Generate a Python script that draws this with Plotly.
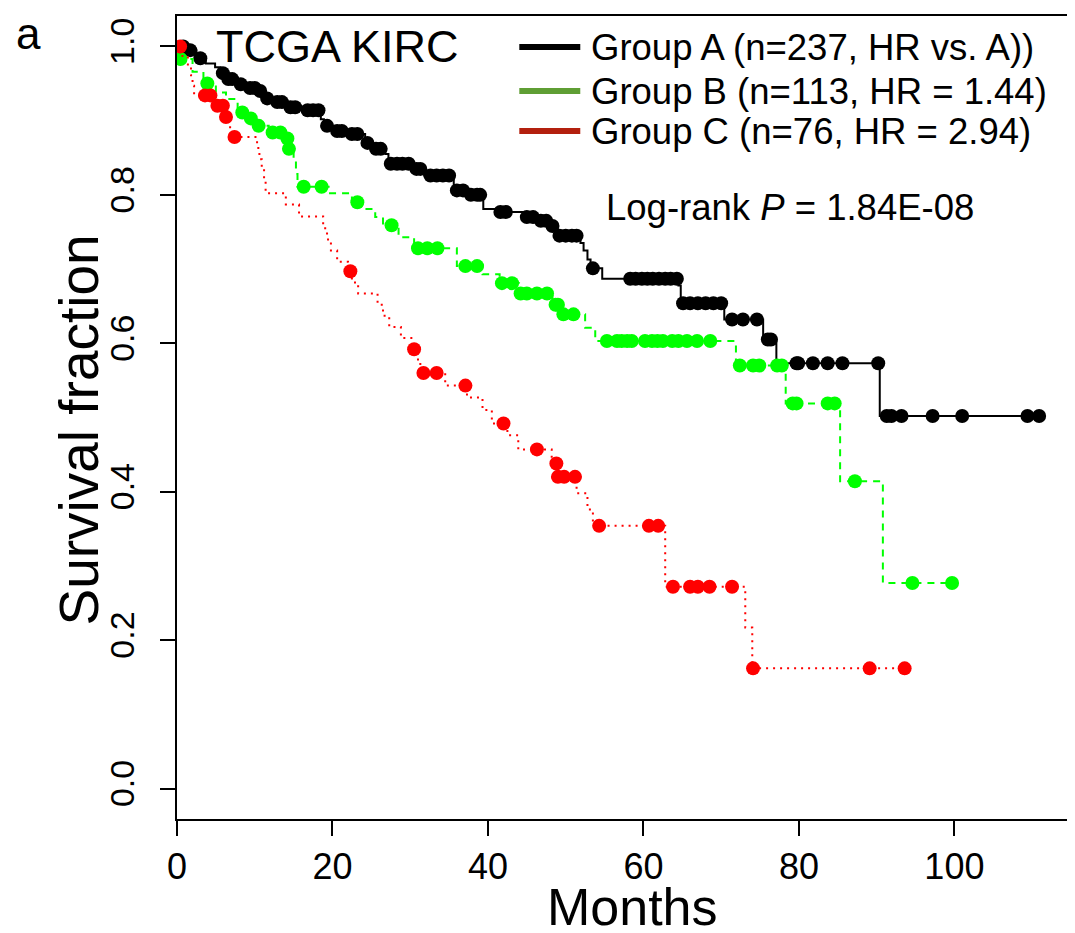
import numpy as np
import plotly.graph_objects as go

# ---------------- data ----------------
# Group A: event times (months) and survival after each event
a_event_t = [1.2, 2.5, 3.7, 4.9, 5.6, 6.4, 7.8, 9.2, 10.5, 11.4, 12.7, 14.3, 16.5, 18.5, 18.9,
             20.0, 22.0, 24.2, 25.2, 26.8, 27.2, 30.5, 31.8, 35.6, 37.5, 39.4, 41.5, 44.5,
             46.5, 48.0, 48.7, 51.9, 52.3, 52.8, 53.2, 54.7, 64.5, 64.8, 70.4, 75.4, 77.1, 90.4]
a_event_s = [0.995, 0.984, 0.977, 0.972, 0.964, 0.956, 0.949, 0.944, 0.940, 0.930, 0.925, 0.918,
             0.914, 0.902, 0.893, 0.886, 0.882, 0.870, 0.862, 0.855, 0.842, 0.835, 0.826, 0.806,
             0.800, 0.781, 0.777, 0.770, 0.765, 0.758, 0.745, 0.735, 0.725, 0.713, 0.701, 0.687,
             0.678, 0.654, 0.632, 0.605, 0.573, 0.502]
a_censor_t = [0.8, 1.7, 3.0, 5.9, 6.6, 7.1, 8.2, 9.4, 10.0, 10.7, 11.6, 12.9, 13.5, 14.6, 15.2,
              16.8, 17.5, 18.2, 19.3, 20.6, 21.2, 22.5, 23.2, 24.5, 25.6, 26.2, 27.5, 28.3,
              29.0, 29.8, 30.8, 31.3, 32.6, 33.4, 34.2, 35.0, 36.0, 36.8, 37.8, 38.6, 39.0,
              41.6, 42.3, 45.0, 45.8, 46.8, 47.5, 48.3, 49.2, 50.0, 50.8, 51.4, 53.5, 58.3,
              59.0, 59.8, 60.5, 61.2, 62.0, 62.8, 63.5, 64.3, 65.1, 66.0, 67.0, 68.0, 69.0,
              70.0, 71.4, 72.8, 74.6, 76.0, 76.4, 79.7, 79.9, 81.8, 83.7, 85.6, 90.2, 91.3,
              91.9, 93.2, 97.2, 101.0, 109.4, 110.9]

# Group B
b_event_t = [0.2, 2.0, 3.4, 5.0, 6.3, 7.8, 9.0, 10.2, 11.8, 14.0, 14.3, 15.0, 15.3, 15.5, 19.5,
             22.5, 23.8, 25.5, 26.5, 28.5, 30.5, 36.0, 39.3, 41.5, 44.0, 48.3, 49.3, 52.5, 53.8,
             71.9, 78.3, 85.3, 90.8]
b_event_s = [0.983, 0.966, 0.950, 0.938, 0.929, 0.911, 0.903, 0.893, 0.884, 0.876, 0.862, 0.845,
             0.828, 0.811, 0.802, 0.790, 0.781, 0.770, 0.759, 0.743, 0.728, 0.704, 0.693, 0.681,
             0.667, 0.652, 0.639, 0.621, 0.603, 0.570, 0.519, 0.414, 0.277]
b_censor_t = [0.45, 3.9, 8.4, 9.5, 10.5, 12.3, 13.3, 14.2, 14.4, 16.3, 18.6, 23.2, 27.6, 31.0,
              32.2, 33.5, 37.1, 38.6, 41.8, 43.1, 44.2, 45.0, 46.3, 47.6, 48.7, 49.0, 49.7,
              51.0, 55.3, 56.6, 57.2, 57.9, 58.5, 60.2, 61.1, 61.8, 62.5, 63.7, 64.5, 65.6,
              66.9, 68.6, 72.4, 74.1, 74.9, 77.2, 77.8, 79.2, 79.7, 83.7, 84.6, 87.2, 94.6, 99.7]

# Group C
c_event_t = [0.7, 1.4, 1.8, 2.0, 2.2, 4.6, 6.1, 6.6, 7.0, 10.3, 10.6, 10.9, 11.2, 11.4, 14.0,
             15.7, 18.8, 19.3, 19.8, 20.6, 22.0, 22.5, 23.3, 25.8, 26.5, 27.3, 28.8, 30.3, 31.0,
             31.3, 34.5, 37.3, 39.3, 40.5, 42.5, 43.9, 48.2, 48.9, 51.4, 52.8, 53.5, 62.8, 73.1,
             74.0]
c_event_s = [0.987, 0.974, 0.961, 0.947, 0.934, 0.920, 0.905, 0.891, 0.878, 0.863, 0.848, 0.833,
             0.818, 0.802, 0.787, 0.771, 0.755, 0.740, 0.725, 0.710, 0.697, 0.682, 0.667, 0.652,
             0.637, 0.622, 0.607, 0.592, 0.576, 0.560, 0.543, 0.527, 0.510, 0.492, 0.476, 0.457,
             0.438, 0.420, 0.398, 0.376, 0.354, 0.272, 0.217, 0.162]
c_censor_t = [0.4, 3.6, 4.3, 5.2, 5.9, 6.3, 7.4, 22.3, 30.5, 31.7, 33.4, 37.1, 42.0, 46.3, 48.8,
              49.0, 49.8, 51.2, 54.3, 60.7, 61.9, 63.8, 66.0, 67.0, 68.5, 71.4, 74.1, 89.1, 93.6]

group_names = ["Group A (n=237, HR vs. A))", "Group B (n=113, HR = 1.44)", "Group C (n=76, HR = 2.94)"]
x_ticks = [0, 20, 40, 60, 80, 100]
y_ticks = [0.0, 0.2, 0.4, 0.6, 0.8, 1.0]
y_tick_labels = ["0.0", "0.2", "0.4", "0.6", "0.8", "1.0"]

# ---------------- helpers ----------------
def surv_at(t, ev_t, ev_s):
    ev_t = np.asarray(ev_t); ev_s = np.asarray(ev_s)
    idx = np.searchsorted(ev_t, t, side="right") - 1
    return np.where(idx >= 0, ev_s[np.clip(idx, 0, None)], 1.0)

def step_curve(ev_t, ev_s, cen_t):
    allt = np.sort(np.concatenate([[0.0], ev_t, cen_t]))
    s = surv_at(allt, ev_t, ev_s)
    s[0] = 1.0
    return allt, s

groups = [
    (a_event_t, a_event_s, a_censor_t, "#000000", "solid"),
    (b_event_t, b_event_s, b_censor_t, "#00FF00", "7px,6px"),
    (c_event_t, c_event_s, c_censor_t, "#FF0000", "2px,5px"),
]

fig = go.Figure()
for ev_t, ev_s, cen_t, col, dash in groups:
    xs, ys = step_curve(ev_t, ev_s, cen_t)
    fig.add_trace(go.Scatter(x=xs, y=ys, mode="lines",
                             line=dict(color=col, width=2, dash=dash, shape="hv"),
                             showlegend=False, hoverinfo="skip"))
    cs = surv_at(np.asarray(cen_t), ev_t, ev_s)
    fig.add_trace(go.Scatter(x=cen_t, y=cs, mode="markers",
                             marker=dict(color=col, size=14, line=dict(width=0)),
                             showlegend=False, hoverinfo="skip"))

FONT = "Liberation Sans, Arial, Helvetica, sans-serif"
# the page body has an 8px margin; design in page pixels and offset
OFF = 8
W, H = 1075 - OFF, 933 - OFF
PL, PR, PT, PB = 176.5, 1071, 16, 819   # plot box in page pixels
ML, MR, MT, MB = PL - OFF, (W + OFF) - PR, PT - OFF, (H + OFF) - PB

fig.update_layout(
    template="none",
    width=W, height=H,
    margin=dict(l=ML, r=MR, t=MT, b=MB, pad=0),
    paper_bgcolor="white", plot_bgcolor="white",
    font=dict(family=FONT, color="black"),
    xaxis=dict(range=[0, 115], tickvals=x_ticks, ticks="outside", ticklen=15, tickwidth=1.5,
               tickcolor="black", automargin=False,
               showline=True, mirror=True, linecolor="black", linewidth=2, showgrid=False, zeroline=False,
               tickfont=dict(size=36, family=FONT), ticklabelstandoff=0),
    yaxis=dict(range=[-0.041, 1.041], tickvals=y_ticks, ticktext=y_tick_labels, ticks="outside", ticklen=15,
               tickwidth=1.5, tickcolor="black", tickangle=-90, automargin=False,
               showline=True, mirror=True, linecolor="black", linewidth=2,
               showgrid=False, zeroline=False, tickfont=dict(size=34, family=FONT), ticklabelstandoff=12),
)

def px(xp, yp):
    return (xp - PL) / (PR - PL), (PB - yp) / (PB - PT)

annots = []
def add_text(text, xp, yp, size, xanchor="left", angle=0):
    xx, yy = px(xp, yp)
    annots.append(dict(text=text, x=xx, y=yy, xref="paper", yref="paper", showarrow=False,
                       xanchor=xanchor, yanchor="middle", textangle=angle,
                       font=dict(size=size, family=FONT)))

add_text("Months", 632, 907, 52, xanchor="center")
add_text("Survival fraction", 78, 430, 55, xanchor="center", angle=-90)
add_text("a", 13, 34, 44)
add_text("TCGA KIRC", 214, 46, 45)
legend_cols = ["#000000", "#5f9e34", "#b3200e"]
legend_y = [47, 91, 131]
for name, col, ly in zip(group_names, legend_cols, legend_y):
    add_text(name, 589, ly, 36.5)
add_text("Log-rank <i>P</i> = 1.84E-08", 604, 208, 36.5)
fig.update_layout(annotations=annots)

shapes = []
for col, ly in zip(legend_cols, legend_y):
    x0, y0 = px(519, ly)
    x1, _ = px(580, ly)
    shapes.append(dict(type="line", xref="paper", yref="paper", x0=x0, x1=x1, y0=y0, y1=y0,
                       line=dict(color=col, width=6)))
fig.update_layout(shapes=shapes)

fig.write_html("out.html")
